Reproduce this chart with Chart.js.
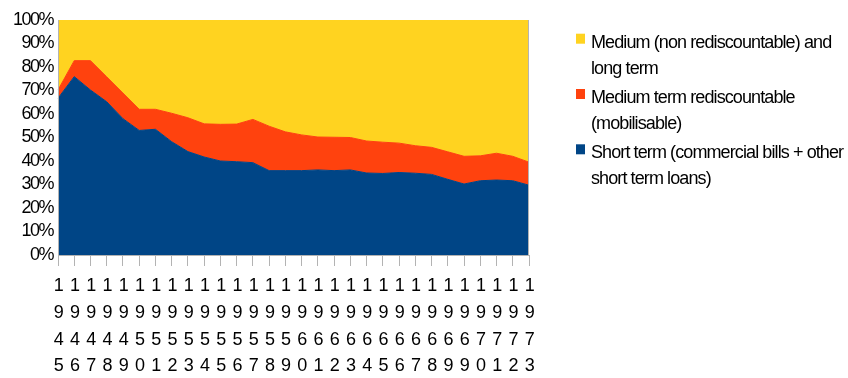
<!DOCTYPE html>
<html>
<head>
<meta charset="utf-8">
<script src="https://cdn.jsdelivr.net/npm/chart.js@4/dist/chart.umd.min.js"></script>
<style>
  html, body { margin: 0; padding: 0; background: #ffffff; }
  #wrap { width: 848px; height: 378px; }
</style>
</head>
<body>
<div id="wrap"><canvas id="c" width="848" height="378"></canvas></div>
<script>
// Years on the category axis (1969 appears twice in the series)
const years = ['1945','1946','1947','1948','1949','1950','1951','1952','1953','1954',
  '1955','1956','1957','1958','1959','1960','1961','1962','1963','1964',
  '1965','1966','1967','1968','1969','1969','1970','1971','1972','1973'];

// Share of each credit type, in percent of the total
const shortTerm = [66.7,75.9,70.2,65.2,58.0,53.0,53.5,48.2,44.0,41.7,
  40.0,39.7,39.3,35.9,35.9,35.9,36.2,35.9,36.2,34.9,
  34.7,35.1,34.8,34.3,32.2,30.2,31.6,31.9,31.6,29.7];
const mediumRediscountable = [3.5,6.8,12.5,10.6,10.9,9.0,8.5,12.1,14.4,14.1,
  15.6,16.0,18.4,18.9,16.5,15.2,14.0,14.2,13.8,13.6,
  13.3,12.5,11.7,11.5,11.7,11.8,10.6,11.4,10.4,9.8];
const mediumLongTerm = [29.8,17.3,17.3,24.2,31.1,38.0,38.0,39.7,41.6,44.2,
  44.4,44.3,42.3,45.2,47.6,48.9,49.8,49.9,50.0,51.5,
  52.0,52.4,53.5,54.2,56.1,58.0,57.8,56.7,58.0,60.5];

const yTicks = [0,10,20,30,40,50,60,70,80,90,100];

const legendEntries = [
  { color: '#ffd320', lines: ['Medium (non rediscountable) and', 'long term'] },
  { color: '#ff420e', lines: ['Medium term rediscountable', '(mobilisable)'] },
  { color: '#004586', lines: ['Short term (commercial bills + other', 'short term loans)'] }
];

const FONT = "'Liberation Sans', Arial, sans-serif";
const AXIS_GREY = '#b3b3b3';

// Tight letter spacing for all canvas text
const spacingPlugin = {
  id: 'spacing',
  beforeUpdate(chart) { chart.ctx.letterSpacing = '-1.5px'; },
  beforeDraw(chart) { chart.ctx.letterSpacing = '-1.5px'; }
};

// Right frame line of the plot area
const framePlugin = {
  id: 'frame',
  afterDatasetsDraw(chart) {
    const { ctx, chartArea: a } = chart;
    ctx.save();
    ctx.strokeStyle = AXIS_GREY;
    ctx.lineWidth = 1;
    ctx.beginPath();
    ctx.moveTo(Math.round(a.right) - 0.5, a.top);
    ctx.lineTo(Math.round(a.right) - 0.5, a.bottom);
    ctx.stroke();
    ctx.restore();
  }
};

// Legend on the right with wrapped entries
const sideLegend = {
  id: 'sideLegend',
  afterDraw(chart) {
    const ctx = chart.ctx;
    ctx.save();
    ctx.letterSpacing = '-0.9px';
    ctx.font = '18px ' + FONT;
    ctx.fillStyle = '#000000';
    ctx.textAlign = 'left';
    ctx.textBaseline = 'alphabetic';
    const boxX = 576, textX = 591;
    const firstBaseline = 47.7, itemGap = 55.3, lineGap = 26;
    legendEntries.forEach((e, i) => {
      const base = firstBaseline + i * itemGap;
      ctx.fillStyle = e.color;
      ctx.fillRect(boxX, base - 14, 9, 10);
      ctx.fillStyle = '#000000';
      e.lines.forEach((t, j) => ctx.fillText(t, textX, base + j * lineGap));
    });
    ctx.restore();
  }
};

const area = (label, data, color) => ({
  label, data,
  backgroundColor: color,
  borderColor: color,
  borderWidth: 1,
  pointRadius: 0,
  pointHoverRadius: 0,
  tension: 0,
  fill: label === 'short' ? 'origin' : '-1'
});

new Chart(document.getElementById('c'), {
  type: 'line',
  data: {
    labels: years.map(y => y.split('')),
    datasets: [
      area('short', shortTerm, '#004586'),
      area('rediscountable', mediumRediscountable, '#ff420e'),
      area('long', mediumLongTerm, '#ffd320')
    ]
  },
  plugins: [spacingPlugin, framePlugin, sideLegend],
  options: {
    responsive: false,
    animation: false,
    events: [],
    layout: { padding: { top: 20, right: 319, bottom: 0, left: 0 } },
    plugins: { legend: { display: false }, tooltip: { enabled: false }, filler: { propagate: false } },
    scales: {
      x: {
        type: 'category',
        offset: false,
        grid: { display: true, drawOnChartArea: false, drawTicks: true, tickLength: 11, color: AXIS_GREY, lineWidth: 1 },
        border: { display: true, color: AXIS_GREY, width: 1, z: 1 },
        ticks: {
          autoSkip: false, maxRotation: 0, minRotation: 0, padding: 7,
          color: '#000000',
          font: { family: FONT, size: 18, lineHeight: 1.48 }
        },
        afterFit(scale) { scale.height = 123; }
      },
      y: {
        stacked: true,
        min: 0, max: 100,
        afterBuildTicks(scale) { scale.ticks = yTicks.map(v => ({ value: v })); },
        grid: { display: false, drawTicks: false },
        border: { display: true, color: AXIS_GREY, width: 1, z: 1 },
        ticks: {
          autoSkip: false,
          padding: 5,
          color: '#000000',
          font: { family: FONT, size: 18 },
          callback: v => v + '%'
        },
        afterFit(scale) { scale.width = 58; }
      }
    }
  }
});
</script>
</body>
</html>
